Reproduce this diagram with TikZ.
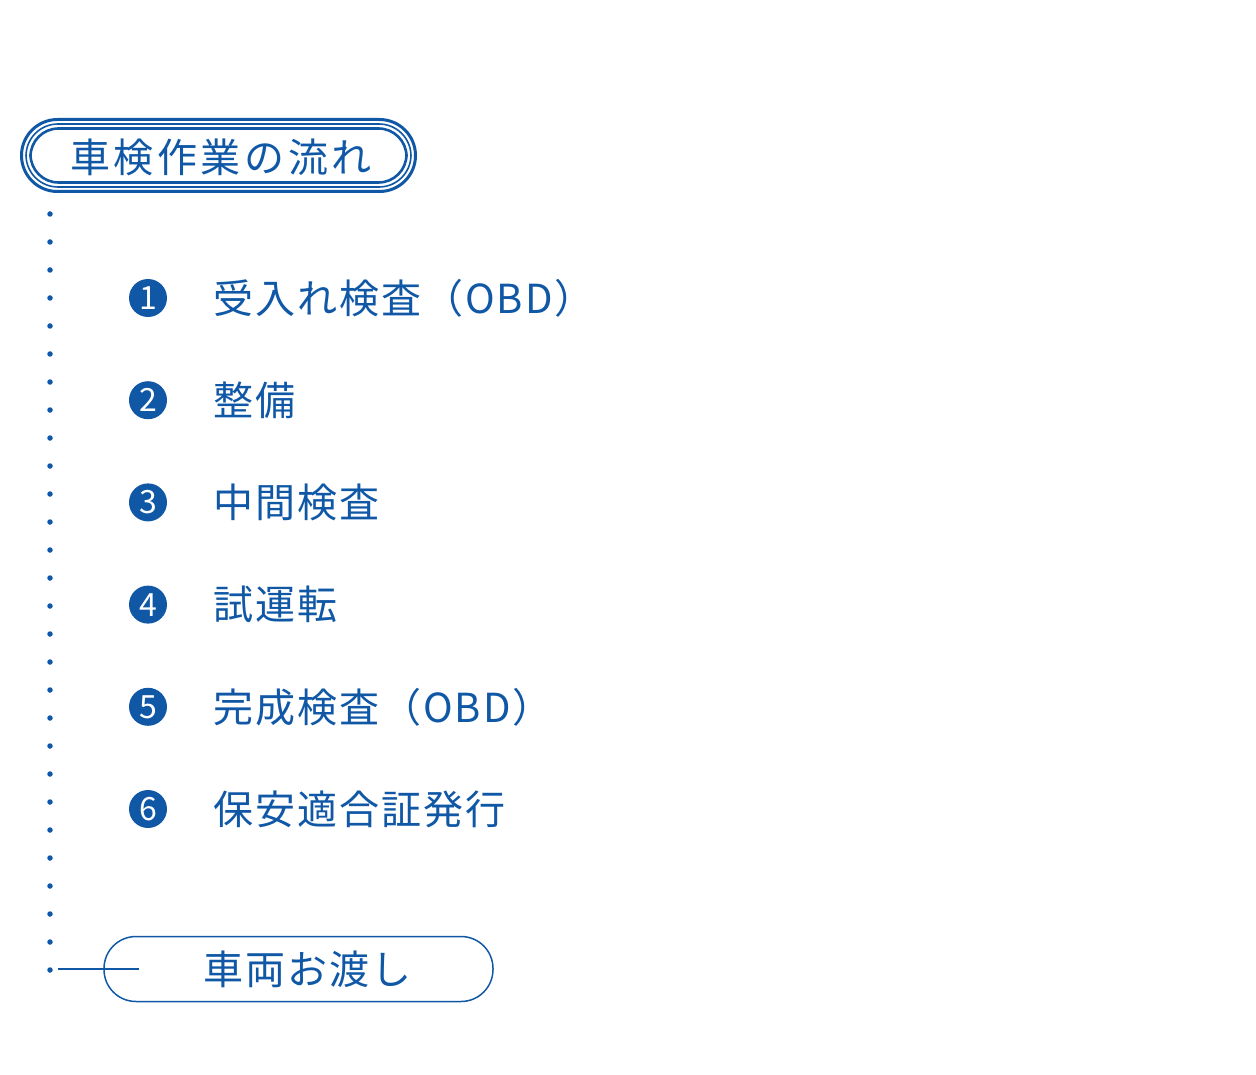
\documentclass[tikz,border=0pt]{standalone}
\usepackage{fontspec}
\newfontfamily\jpT[LetterSpace=9]{Noto Sans CJK JP}
\newfontfamily\jpI[LetterSpace=5]{Noto Sans CJK JP}
\newfontfamily\numf{Noto Sans CJK JP}
\definecolor{mainblue}{RGB}{16,88,166}
\tikzset{
  itemtext/.style={anchor=west, inner sep=0pt, text=mainblue, font=\jpI\fontsize{40}{40}\selectfont},
  numdot/.style={circle, fill=mainblue, minimum size=38pt, inner sep=0pt, text=white, font=\numf\fontsize{32}{32}\selectfont},
  smalldot/.style={circle, fill=mainblue, minimum size=5.5pt, inner sep=0pt},
}
\begin{document}
\begin{tikzpicture}[x=1pt,y=-1pt]
\useasboundingbox (0,0) rectangle (1256,1075);
% title box
\draw[mainblue, line width=3pt, rounded corners=36pt] (21.5,119.5) rectangle (415.5,191.5);
\draw[mainblue, line width=1.6pt, rounded corners=32pt] (26,124) rectangle (411,187);
\draw[mainblue, line width=2.6pt, rounded corners=28pt] (30.5,128.5) rectangle (406.5,182.5);
\node[inner sep=0pt, text=mainblue, font=\jpT\fontsize{40}{40}\selectfont] (title) at (221,157) {車検作業の流れ};
% dots
\foreach \i in {0,...,27} {
  \node[smalldot] (d\i) at (50,{214+28*\i}) {};
}
% items
\foreach \n/\t [count=\k from 0] in {1/受入れ検査（OBD）,2/整備,3/中間検査,4/試運転,5/完成検査（OBD）,6/保安適合証発行} {
  \node[numdot] (n\n) at (148,{298+102.2*\k}) {\n};
  \node[itemtext] (t\n) at (213,{298+102.2*\k}) {\t};
}
% bottom
\node[draw=mainblue, line width=1.5pt, rounded corners=32pt, minimum width=389pt, minimum height=65pt, inner sep=0pt] (end) at (298.5,969) {};
\node[inner sep=0pt, text=mainblue, font=\jpI\fontsize{40}{40}\selectfont] (endt) at (307,969) {車両お渡し};
\coordinate (cs) at (58,969);
\coordinate (ce) at (139,969);
\draw[mainblue, line width=1.5pt] (cs) -- (ce);
\end{tikzpicture}
\end{document}
